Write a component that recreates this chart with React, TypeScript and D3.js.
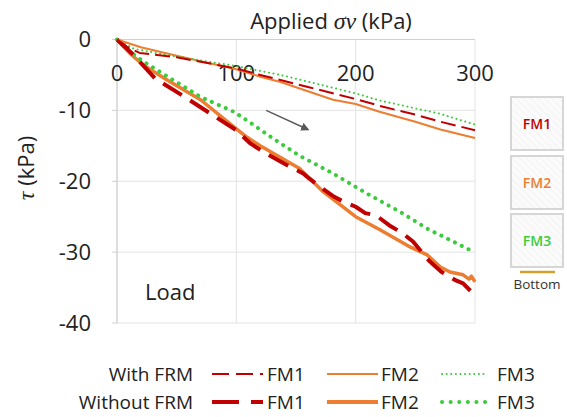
import React from "react";
import * as d3 from "d3";

// ---- data (σv in kPa, τ in kPa) ----
const withFM1_s = [0, 10, 19, 50, 78, 100, 120, 160, 200, 223, 250, 271, 300];
const withFM1_t = [0, -1.2, -1.9, -2.5, -3.4, -4.1, -5.0, -6.7, -8.4, -9.5, -10.6, -11.6, -12.8];

const withFM2_s = [0, 20, 50, 100, 120, 137, 181, 200, 220, 250, 271, 300];
const withFM2_t = [0, -1.1, -2.3, -4.2, -5.25, -6.0, -8.5, -9.1, -10.2, -11.6, -12.7, -13.9];

const withFM3_s = [0, 14, 42, 98, 137, 200, 220, 271, 300];
const withFM3_t = [0, -1.3, -2.2, -3.7, -5.0, -7.6, -8.6, -10.5, -12.0];

const woFM1_s = [0, 14, 32, 52, 100, 112, 125, 140, 156, 161, 172, 182, 190, 200, 208, 217, 228, 239, 248, 262, 268, 272, 284, 290, 297, 300];
const woFM1_t = [0, -2.2, -5.5, -7.6, -12.8, -14.7, -16.1, -17.5, -18.9, -19.6, -21.0, -22.2, -22.9, -23.6, -24.5, -24.8, -26.2, -27.3, -28.5, -31.3, -32.2, -32.8, -34.0, -34.4, -35.6, -36.2];

const woFM2_s = [0, 11, 22, 42, 70, 100, 109, 120, 153, 173, 200, 220, 246, 260, 271, 279, 290, 295, 297, 300];
const woFM2_t = [0, -2.0, -3.6, -5.7, -8.5, -12.6, -13.8, -15.0, -18.2, -21.5, -25.0, -26.8, -29.3, -30.4, -32.1, -32.8, -33.2, -33.8, -33.4, -34.2];

const woFM3_s = [0, 10, 22, 42, 70, 98, 114, 131, 153, 181, 209, 237, 262, 271, 297, 300];
const woFM3_t = [0, -1.6, -3.1, -5.2, -8.1, -10.2, -12.0, -14.0, -16.4, -18.9, -21.7, -24.3, -26.9, -27.6, -29.8, -30.0];

const xTicks = [0, 100, 200, 300];
const yTicks = [0, -10, -20, -30, -40];
const boxLabels = ["FM1", "FM2", "FM3"];
const legendRows = ["With FRM", "Without FRM"];

const C1 = "#C00000";
const C2 = "#ED7D31";
const C3 = "#3CCB3C";
const FONT = "'Open Sans', sans-serif";

export default function App() {
  const x = d3.scaleLinear().domain([0, 300]).range([117, 475]);
  const y = d3.scaleLinear().domain([-40, 0]).range([323, 39.5]);
  const line = d3
    .line<[number, number]>()
    .x((d) => x(d[0]))
    .y((d) => y(d[1]));
  const mk = (s: number[], t: number[]) => line(s.map((v, i) => [v, t[i]]) as [number, number][]) || "";

  const series = [
    { d: mk(woFM2_s, woFM2_t), c: C2, w: 3.5, dash: undefined, cap: "butt" },
    { d: mk(woFM3_s, woFM3_t), c: C3, w: 4, dash: "0.1,7.5", cap: "round" },
    { d: mk(woFM1_s, woFM1_t), c: C1, w: 4, dash: "22,10", cap: "butt" },
    { d: mk(withFM2_s, withFM2_t), c: C2, w: 2, dash: undefined, cap: "butt" },
    { d: mk(withFM3_s, withFM3_t), c: C3, w: 2, dash: "0.1,4.5", cap: "round" },
    { d: mk(withFM1_s, withFM1_t), c: C1, w: 2, dash: "15,6", cap: "butt" },
  ];

  const legendStyles = [
    [
      { c: C1, w: 2, dash: "17,7", cap: "butt" },
      { c: C2, w: 2, dash: undefined, cap: "butt" },
      { c: C3, w: 2, dash: "0.1,4.5", cap: "round" },
    ],
    [
      { c: C1, w: 4, dash: "27,12", cap: "butt" },
      { c: C2, w: 4, dash: undefined, cap: "butt" },
      { c: C3, w: 4, dash: "0.1,8.5", cap: "round" },
    ],
  ];
  const legCols = [
    { x1: 212, x2: 263, tx: 267 },
    { x1: 327, x2: 378, tx: 381 },
    { x1: 442, x2: 487, tx: 497 },
  ];
  const boxColors = [C1, C2, C3];

  return (
    <svg
      width={567}
      height={417}
      style={{ position: "fixed", left: 0, top: 0, background: "#fff" }}
      fontFamily={FONT}
    >
      <defs>
        <pattern id="hatch" width="5" height="5" patternUnits="userSpaceOnUse" patternTransform="rotate(-45)">
          <rect width="5" height="5" fill="#fbfbfb" />
          <line x1="0" y1="0" x2="0" y2="5" stroke="#ececec" strokeWidth="1" />
        </pattern>
        <marker id="ah" viewBox="0 0 10 10" refX="8" refY="5" markerWidth="6" markerHeight="6" orient="auto">
          <path d="M0,0 L10,5 L0,10 z" fill="#595959" />
        </marker>
      </defs>

      {/* gridlines */}
      {yTicks.map((t) => (
        <line key={"gy" + t} x1={x(0)} x2={x(300)} y1={y(t)} y2={y(t)} stroke="#e3e3e3" strokeWidth={1} />
      ))}
      {xTicks.map((t) => (
        <line key={"gx" + t} x1={x(t)} x2={x(t)} y1={y(0)} y2={y(-40)} stroke="#e3e3e3" strokeWidth={1} />
      ))}
      {/* axes */}
      <line x1={x(0)} x2={x(300)} y1={y(0)} y2={y(0)} stroke="#d0d0d0" strokeWidth={1.2} />
      <line x1={x(0)} x2={x(0)} y1={y(0)} y2={y(-40)} stroke="#d0d0d0" strokeWidth={1.2} />
      {yTicks.map((t) => (
        <line key={"ty" + t} x1={x(0) - 5} x2={x(0)} y1={y(t)} y2={y(t)} stroke="#d0d0d0" strokeWidth={1} />
      ))}

      {/* tick labels */}
      {yTicks.map((t) => (
        <text key={"ly" + t} x={91} y={y(t)} dy="0.36em" textAnchor="end" fontSize={22} fill="#222">
          {t}
        </text>
      ))}
      {xTicks.map((t) => (
        <text key={"lx" + t} x={x(t)} y={81} textAnchor="middle" fontSize={22} fill="#222">
          {t}
        </text>
      ))}

      {/* titles */}
      <text x={331} y={29} textAnchor="middle" fontSize={22} fill="#222">
        Applied{" "}
        <tspan fontFamily="'Liberation Serif', serif" fontStyle="italic" fontSize={24}>
          σv
        </tspan>{" "}
        (kPa)
      </text>
      <text transform="translate(34,168) rotate(-90)" textAnchor="middle" fontSize={22} fill="#222">
        <tspan fontFamily="'Liberation Serif', serif" fontStyle="italic" fontSize={24}>
          τ
        </tspan>{" "}
        (kPa)
      </text>

      {/* series */}
      {series.map((s, i) => (
        <path
          key={i}
          d={s.d}
          fill="none"
          stroke={s.c}
          strokeWidth={s.w}
          strokeDasharray={s.dash}
          strokeLinecap={s.cap as any}
          strokeLinejoin="round"
        />
      ))}

      {/* arrow annotation */}
      <line
        x1={x(125)}
        y1={y(-10.0)}
        x2={x(160)}
        y2={y(-12.7)}
        stroke="#595959"
        strokeWidth={1.4}
        markerEnd="url(#ah)"
      />

      <text x={145} y={300} fontSize={22} fill="#222">
        Load
      </text>

      {/* right-side boxes */}
      {boxLabels.map((b, i) => {
        const top = [97, 156, 214][i];
        return (
          <g key={b}>
            <rect x={511} y={top} width={52} height={53} fill="url(#hatch)" stroke="#d6d6d6" strokeWidth={2} />
            <text x={537} y={top + 32} textAnchor="middle" fontSize={14} fontWeight={600} fill={boxColors[i]}>
              {b}
            </text>
          </g>
        );
      })}
      <line x1={520} x2={555} y1={272} y2={272} stroke="#D1A12F" strokeWidth={2.5} />
      <text x={537} y={289} textAnchor="middle" fontSize={13.5} fill="#333">
        Bottom
      </text>

      {/* legend */}
      {legendRows.map((r, ri) => {
        const ly = [374, 402][ri];
        return (
          <g key={r}>
            <text x={193} y={ly + 6.5} textAnchor="end" fontSize={19} fill="#222">
              {r}
            </text>
            {legCols.map((c, ci) => {
              const st = legendStyles[ri][ci];
              return (
                <g key={ci}>
                  <line
                    x1={c.x1}
                    x2={c.x2}
                    y1={ly}
                    y2={ly}
                    stroke={st.c}
                    strokeWidth={st.w}
                    strokeDasharray={st.dash}
                    strokeLinecap={st.cap as any}
                  />
                  <text x={c.tx} y={ly + 6.5} fontSize={19} fill="#222">
                    {boxLabels[ci]}
                  </text>
                </g>
              );
            })}
          </g>
        );
      })}
    </svg>
  );
}
